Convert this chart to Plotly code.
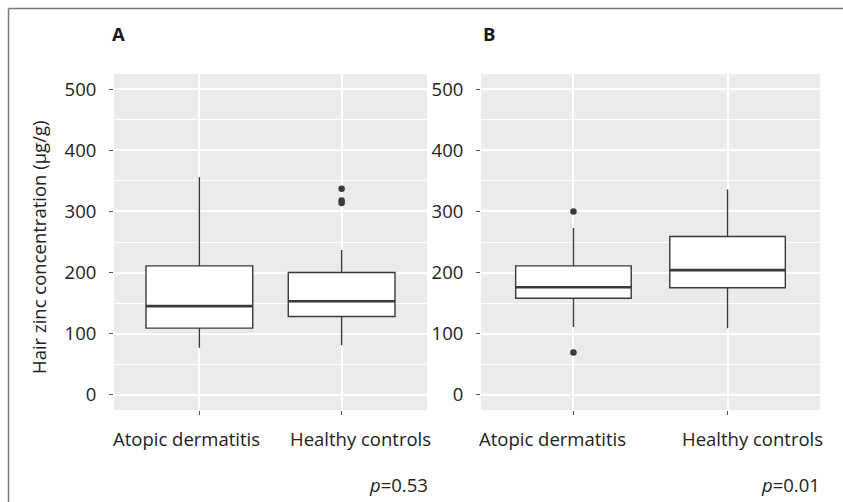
import plotly.graph_objects as go

W, H = 843, 502

categories = ["Atopic dermatitis", "Healthy controls"]
panel_labels = ["A", "B"]
p_values = ["0.53", "0.01"]

# Panel A (five-number summaries per category)
a_q1 = [109, 128]
a_median = [145, 153]
a_q3 = [211, 200]
a_lower = [77, 81]
a_upper = [356, 237]
a_out_cat = [1, 1, 1]
a_out_val = [337, 318, 314]

# Panel B
b_q1 = [158, 175]
b_median = [176, 204]
b_q3 = [211, 259]
b_lower = [111, 109]
b_upper = [273, 336]
b_out_cat = [0, 0]
b_out_val = [300, 69]

y_ticks = [0, 100, 200, 300, 400, 500]

FONT = "Open Sans"
FS = 18.5
BOXW = 0.75
LINE = "#3a3a3a"

fig = go.Figure()

panels = [
    (a_q1, a_median, a_q3, a_lower, a_upper, a_out_cat, a_out_val),
    (b_q1, b_median, b_q3, b_lower, b_upper, b_out_cat, b_out_val),
]

for i, (q1, med, q3, lo, hi, oc, ov) in enumerate(panels):
    xa = "x" if i == 0 else "x2"
    ya = "y" if i == 0 else "y2"
    pos = list(range(len(categories)))
    fig.add_trace(go.Box(
        x=pos, q1=q1, median=med, q3=q3, lowerfence=lo, upperfence=hi,
        width=BOXW, whiskerwidth=0, fillcolor="white",
        line=dict(color=LINE, width=1.4), boxpoints=False,
        xaxis=xa, yaxis=ya, showlegend=False, hoverinfo="skip"))
    # thicker median line
    for p, m in zip(pos, med):
        fig.add_trace(go.Scatter(
            x=[p - BOXW / 2, p + BOXW / 2], y=[m, m], mode="lines",
            line=dict(color=LINE, width=2.6), xaxis=xa, yaxis=ya,
            showlegend=False, hoverinfo="skip"))
    fig.add_trace(go.Scatter(
        x=oc, y=ov, mode="markers",
        marker=dict(color=LINE, size=6.5),
        xaxis=xa, yaxis=ya, showlegend=False, hoverinfo="skip"))

y_dom = [(H - 410) / H, (H - 74) / H]
xa_dom = [114 / W, 427 / W]
xb_dom = [481 / W, 820 / W]

axis_common = dict(
    showline=False, zeroline=False, ticks="outside", ticklen=4,
    tickwidth=1, tickcolor="#555555", automargin=False,
    tickfont=dict(family=FONT, size=FS, color="#222222"),
)

for k, dom in (("xaxis", xa_dom), ("xaxis2", xb_dom)):
    fig.layout[k] = dict(
        axis_common, domain=dom, range=[-0.6, 1.6],
        tickvals=[0, 1], ticktext=categories, tickangle=0,
        showticklabels=False,
        showgrid=True, gridcolor="white", gridwidth=1.6,
        anchor="y" if k == "xaxis" else "y2")

for k in ("yaxis", "yaxis2"):
    fig.layout[k] = dict(
        axis_common, domain=y_dom, range=[-25, 525],
        tickvals=y_ticks, showgrid=True, gridcolor="white", gridwidth=1.6,
        minor=dict(dtick=50, tick0=50, showgrid=True, gridcolor="white", gridwidth=0.8, ticks=""),
        ticklabelstandoff=9,
        anchor="x" if k == "yaxis" else "x2")

# Panel backgrounds
for dom in (xa_dom, xb_dom):
    fig.add_shape(type="rect", xref="paper", yref="paper",
                  x0=dom[0], x1=dom[1], y0=y_dom[0], y1=y_dom[1],
                  fillcolor="#EBEBEB", line=dict(width=0), layer="below")

# Outer frame (left and top edges)
fig.add_shape(type="line", xref="paper", yref="paper",
              x0=8.5 / W, x1=8.5 / W, y0=0, y1=(H - 8.5) / H,
              line=dict(color="#7a7a7a", width=1.5))
fig.add_shape(type="line", xref="paper", yref="paper",
              x0=8.5 / W, x1=1, y0=(H - 8.5) / H, y1=(H - 8.5) / H,
              line=dict(color="#7a7a7a", width=1.5))

annotations = []
label_x = [110, 481]
p_x = [430, 822]
# category label placement (pixel centers, spread apart as in the original)
cat_label_x = [[186, 360], [552, 752]]
for i in range(2):
    annotations.append(dict(
        text="<b>%s</b>" % panel_labels[i], xref="paper", yref="paper",
        x=label_x[i] / W, y=(H - 33) / H, xanchor="left", yanchor="middle",
        showarrow=False, font=dict(family=FONT, size=FS, color="#1a1a1a")))
    annotations.append(dict(
        text="<i>p</i>=%s" % p_values[i], xref="paper", yref="paper",
        x=p_x[i] / W, y=(H - 484) / H, xanchor="right", yanchor="middle",
        showarrow=False, font=dict(family=FONT, size=FS, color="#222222")))
    for j, cat in enumerate(categories):
        annotations.append(dict(
            text=cat, xref="paper", yref="paper",
            x=cat_label_x[i][j] / W, y=(H - 438) / H,
            xanchor="center", yanchor="middle", showarrow=False,
            font=dict(family=FONT, size=FS, color="#222222")))
annotations.append(dict(
    text="Hair zinc concentration (µg/g)", xref="paper", yref="paper",
    x=38 / W, y=(H - 248) / H, xanchor="center", yanchor="middle",
    textangle=-90, showarrow=False,
    font=dict(family=FONT, size=FS, color="#222222")))

fig.update_layout(
    width=W, height=H, margin=dict(l=0, r=0, t=0, b=0, autoexpand=False),
    paper_bgcolor="white", plot_bgcolor="rgba(0,0,0,0)",
    annotations=annotations, showlegend=False,
)

fig.write_html("out.html", config={"displayModeBar": False},
               post_script="document.body.style.margin='0';document.body.style.overflow='hidden';")
